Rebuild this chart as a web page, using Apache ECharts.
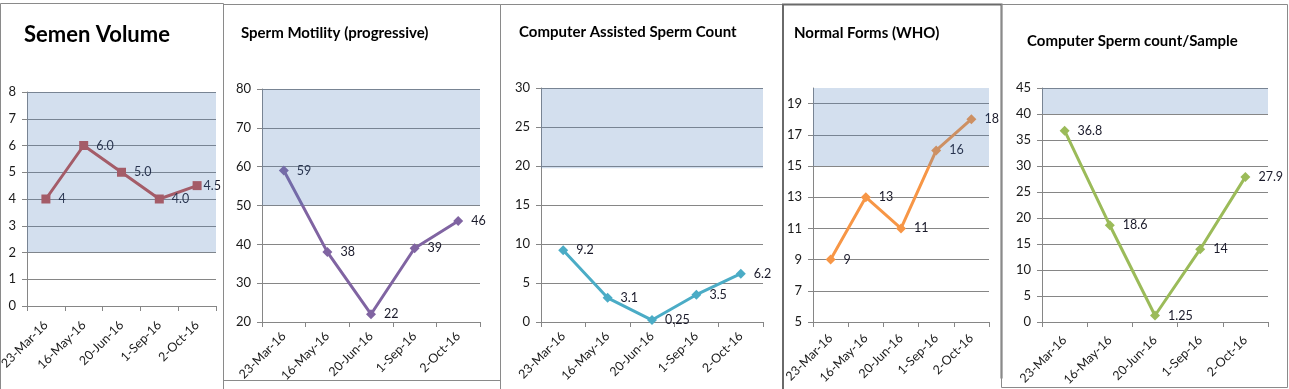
<!DOCTYPE html>
<html>
<head>
<meta charset="utf-8">
<script src="https://cdn.jsdelivr.net/npm/echarts@6/dist/echarts.min.js"></script>
<style>
html,body{margin:0;padding:0;background:#fff;}
#chart{width:1289px;height:389px;}
</style>
</head>
<body>
<div id="chart"></div>
<script>
// ---------- data ----------
const categories = ['23-Mar-16', '16-May-16', '20-Jun-16', '1-Sep-16', '2-Oct-16'];

const titles = ['Semen Volume', 'Sperm Motility (progressive)', 'Computer Assisted Sperm Count', 'Normal Forms (WHO)', 'Computer Sperm count/Sample'];

const semenVolume = [4, 6, 5, 4, 4.5];
const semenVolumeLabels = ['4', '6.0', '5.0', '4.0', '4.5'];
const motility = [59, 38, 22, 39, 46];
const assistedCount = [9.2, 3.1, 0.25, 3.5, 6.2];
const normalForms = [9, 13, 11, 16, 18];
const countPerSample = [36.8, 18.6, 1.25, 14, 27.9];

// reference (normal) ranges shaded in each chart
const bandLow = [2, 50, 19.7, 15, 40];
const bandHigh = [8, 80, 30, 20, 45];

// y-axis scales
const yMin = [0, 20, 0, 5, 0];
const yMax = [8, 80, 30, 20, 45];
const yStep = [1, 10, 5, 2, 5];
const normalFormsTicks = [5, 7, 9, 11, 13, 15, 17, 19];

// ---------- layout / style ----------
const seriesValues = [semenVolume, motility, assistedCount, normalForms, countPerSample];
const seriesLabels = [semenVolumeLabels, null, null, null, null];
const colors = ['#C0504D', '#8064A2', '#4BACC6', '#F79646', '#9BBB59'];
const symbols = ['rect', 'diamond', 'diamond', 'diamond', 'diamond'];
const symbolSizes = [9, 10, 10, 10, 10];
const grids = [
  {left: 27, top: 92, width: 189, height: 214},
  {left: 262, top: 89, width: 218, height: 233},
  {left: 541, top: 88, width: 222, height: 234},
  {left: 813, top: 88, width: 176, height: 234},
  {left: 1042, top: 88, width: 226, height: 234}
];
const xLabelMargins = [17, 12, 12, 14, 16];
const titlePos = [
  {left: 24, top: 24, size: 22},
  {left: 241, top: 26, size: 15},
  {left: 519, top: 25, size: 15},
  {left: 794, top: 26, size: 15},
  {left: 1027, top: 34, size: 15}
];
const FONT = 'Lato, "Open Sans", sans-serif';
const gridColor = '#868686';

const option = {
  backgroundColor: '#ffffff',
  animation: false,
  markArea: {z: 10},
  title: titles.map((t, i) => ({
    text: t, left: titlePos[i].left, top: titlePos[i].top, padding: 0,
    textStyle: {fontFamily: FONT, fontWeight: 'bold', fontSize: titlePos[i].size, color: '#000'}
  })),
  graphic: [
    {type: 'polyline', shape: {points: [[0.5, 395], [0.5, 3.5], [223.5, 3.5], [223.5, 395]]}, style: {stroke: '#8a8a8a', fill: null, lineWidth: 1}},
    {type: 'rect', shape: {x: 223.5, y: 4.5, width: 277, height: 376}, style: {stroke: '#8a8a8a', fill: null, lineWidth: 1}},
    {type: 'polyline', shape: {points: [[500.5, 395], [500.5, 4.5], [783.5, 4.5], [783.5, 395]]}, style: {stroke: '#8a8a8a', fill: null, lineWidth: 1}},
    {type: 'polyline', shape: {points: [[783, 395], [783, 4.5], [1001.5, 4.5], [1001.5, 378.5]]}, style: {stroke: '#6a6a6a', fill: null, lineWidth: 2}},
    {type: 'rect', shape: {x: 1001.5, y: 4.5, width: 286, height: 383}, style: {stroke: '#8a8a8a', fill: null, lineWidth: 1}}
  ],
  grid: grids.map(g => Object.assign({containLabel: false, outerBoundsMode: 'none'}, g)),
  xAxis: grids.map((g, i) => ({
    type: 'category', gridIndex: i, data: categories, boundaryGap: true,
    axisLine: {lineStyle: {color: gridColor}},
    axisTick: {show: true, length: 5, lineStyle: {color: gridColor}},
    axisLabel: {rotate: 45, margin: xLabelMargins[i], fontFamily: FONT, fontSize: 12.5, color: '#1a1a1a', interval: 0, hideOverlap: false}
  })),
  yAxis: grids.map((g, i) => {
    const ax = {
      type: 'value', gridIndex: i, min: yMin[i], max: yMax[i], interval: yStep[i],
      axisLine: {show: true, lineStyle: {color: gridColor}},
      axisTick: {show: true, length: 5, lineStyle: {color: gridColor}},
      splitLine: {show: true, lineStyle: {color: gridColor, width: 1}},
      axisLabel: {margin: 11, fontFamily: FONT, fontSize: 13, color: '#1a1a1a'}
    };
    if (i === 3) {
      delete ax.interval;
      ax.axisLabel.customValues = normalFormsTicks;
      ax.axisTick.customValues = normalFormsTicks;
    }
    return ax;
  }),
  series: seriesValues.map((vals, i) => ({
    type: 'line', xAxisIndex: i, yAxisIndex: i,
    data: vals.map((v, j) => {
      const item = {value: v};
      if (i === 0 && j === vals.length - 1) item.label = {distance: 2};
      return item;
    }),
    symbol: symbols[i], symbolSize: symbolSizes[i],
    lineStyle: {color: colors[i], width: 3},
    itemStyle: {color: colors[i]},
    label: {
      show: true, position: 'right', distance: 8,
      fontFamily: FONT, fontSize: 12.5, color: '#1a1a2a',
      formatter: p => seriesLabels[i] ? seriesLabels[i][p.dataIndex] : String(p.value)
    },
    markArea: {
      silent: true,
      itemStyle: {color: 'rgba(79,129,189,0.25)'},
      data: [[{yAxis: bandLow[i]}, {yAxis: bandHigh[i]}]]
    }
  }))
};

const chart = echarts.init(document.getElementById('chart'), null, {renderer: 'canvas'});
chart.setOption(option);
</script>
</body>
</html>
